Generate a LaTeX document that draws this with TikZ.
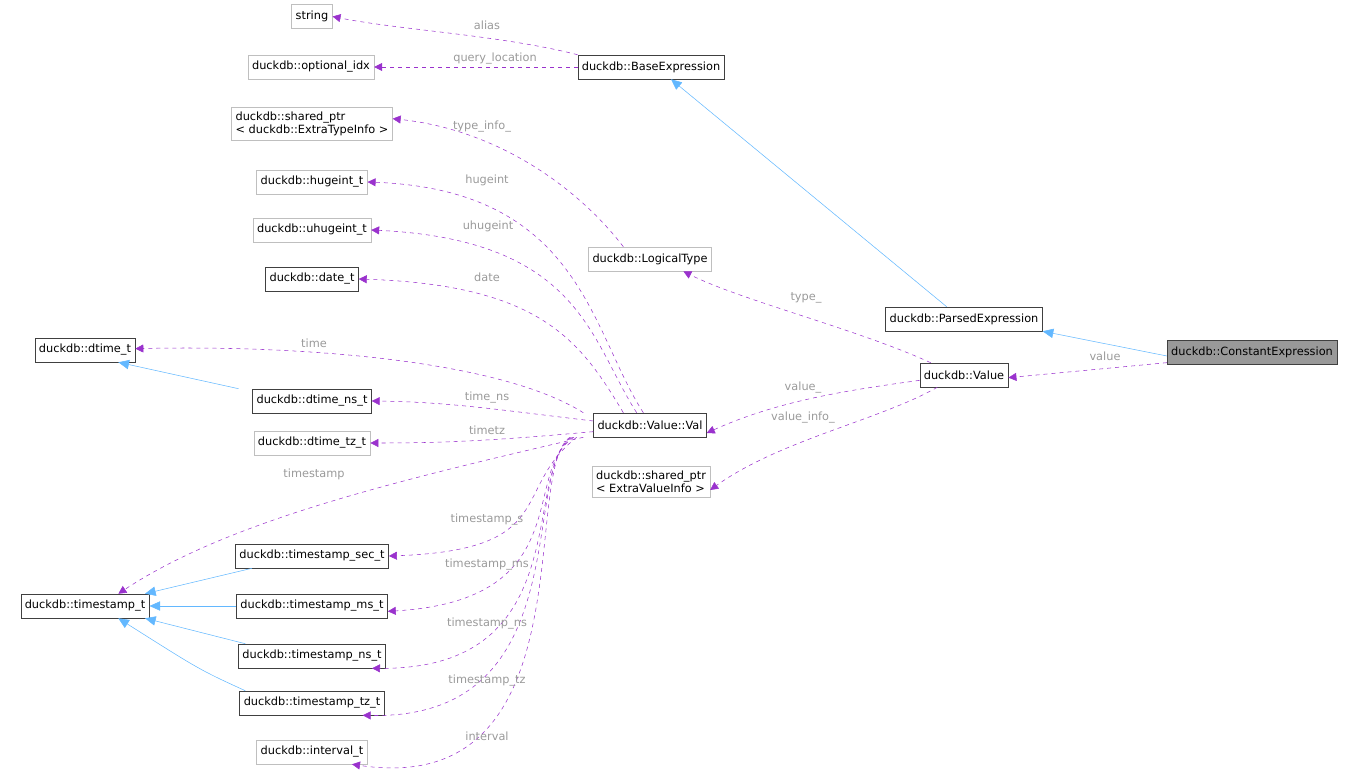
\documentclass[tikz,border=0pt]{standalone}
\usepackage{fontspec}
\setmainfont{DejaVu Sans}
\usetikzlibrary{arrows.meta, positioning}
\definecolor{member}{HTML}{9A32CD}
\definecolor{inherit}{HTML}{63B8FF}
\definecolor{lblgray}{HTML}{9A9A9A}
\definecolor{lightedge}{HTML}{BFBFBF}
\definecolor{darkedge}{HTML}{404040}
\definecolor{selfill}{HTML}{999999}
\tikzset{
    cls/.style={rectangle, draw=darkedge, fill=white, inner xsep=3pt, minimum height=18pt, align=left, font=\fontsize{8.5}{10}\selectfont},
    ext/.style={cls, draw=lightedge},
    mem/.style={dashed, color=member, -{Triangle[length=6pt, width=6pt]}},
    inh/.style={color=inherit, -{Triangle[length=8pt, width=7pt]}},
    lbl/.style={text=lblgray, font=\fontsize{8.5}{10}\selectfont, inner sep=1pt}
}
\begin{document}
\begin{tikzpicture}[x=0.75pt, y=-0.75pt]
    \useasboundingbox (0,0) rectangle (1361,784);
    % Classes
    \node (str) [ext] at (312,16.5) {string};
    \node (optidx) [ext] at (311,67) {duckdb::optional\_idx};
    \node (baseexpr) [cls] at (651,67) {duckdb::BaseExpression};
    \node (typeinfo) [ext] at (312,124) {duckdb::shared\_ptr\\< duckdb::ExtraTypeInfo >};
    \node (hugeint) [ext] at (312,182) {duckdb::hugeint\_t};
    \node (uhugeint) [ext] at (312,230) {duckdb::uhugeint\_t};
    \node (date) [cls] at (312,279) {duckdb::date\_t};
    \node (dtime) [cls] at (85,350) {duckdb::dtime\_t};
    \node (dtimens) [cls] at (312,401) {duckdb::dtime\_ns\_t};
    \node (dtimetz) [ext] at (312,443) {duckdb::dtime\_tz\_t};
    \node (logtype) [ext] at (650,259) {duckdb::LogicalType};
    \node (parsed) [cls] at (964,319) {duckdb::ParsedExpression};
    \node (constexpr) [cls, fill=selfill] at (1252,352) {duckdb::ConstantExpression};
    \node (value) [cls] at (964,375) {duckdb::Value};
    \node (val) [cls] at (650,425) {duckdb::Value::Val};
    \node (valinfo) [ext] at (651,482) {duckdb::shared\_ptr\\< ExtraValueInfo >};
    \node (ts) [cls] at (85,606) {duckdb::timestamp\_t};
    \node (tssec) [cls] at (312,556) {duckdb::timestamp\_sec\_t};
    \node (tsms) [cls] at (312,606) {duckdb::timestamp\_ms\_t};
    \node (tsns) [cls] at (312,656) {duckdb::timestamp\_ns\_t};
    \node (tstz) [cls] at (312,703) {duckdb::timestamp\_tz\_t};
    \node (interval) [ext] at (312,752) {duckdb::interval\_t};

    % Inheritance
    \draw [inh] ([xshift=-13pt]parsed.north) -- ([xshift=15pt]baseexpr.south);
    \draw [inh] ([yshift=-3pt]constexpr.west) -- (parsed.south east);
    \draw [inh] ([xshift=-55pt]dtimens.north) -- ([xshift=25pt]dtime.south);
    \draw [inh] ([xshift=-45pt]tssec.south) -- ([xshift=45pt]ts.north);
    \draw [inh] (tsms.west) -- (ts.east);
    \draw [inh] ([xshift=-50pt]tsns.north) -- ([xshift=45pt]ts.south);
    \draw [inh] ([xshift=-50pt]tstz.north) .. controls (200,670) .. ([xshift=25pt]ts.south);

    % Members
    \draw [mem] ([xshift=-55pt]baseexpr.north) .. controls (500,35) and (400,30) .. (str.east);
    \draw [mem] (baseexpr.west) -- (optidx.east);
    \draw [mem] ([xshift=-20pt]logtype.north) .. controls (580,190) and (500,130) .. ([yshift=4pt]typeinfo.east);
    \draw [mem] ([xshift=-5pt]val.north) .. controls (590,330) and (580,190) .. (hugeint.east);
    \draw [mem] ([xshift=-10pt]val.north) .. controls (590,340) and (580,240) .. (uhugeint.east);
    \draw [mem] ([xshift=-20pt]val.north) .. controls (580,340) and (540,285) .. (date.east);
    \draw [mem] ([xshift=-50pt]val.north) .. controls (500,360) and (300,345) .. ([yshift=1pt]dtime.east);
    \draw [mem] ([yshift=3pt]val.west) .. controls (500,410) and (450,402) .. (dtimens.east);
    \draw [mem] ([yshift=-5pt]val.west) .. controls (500,440) and (450,443) .. (dtimetz.east);
    \draw [mem] ([xshift=-50pt]val.south) .. controls (400,480) and (230,520) .. ([xshift=25pt]ts.north);
    \draw [mem] ([xshift=-55pt]val.south) .. controls (510,490) and (560,550) .. (tssec.east);
    \draw [mem] ([xshift=-57pt]val.south) .. controls (520,470) and (580,600) .. ([yshift=-4pt]tsms.east);
    \draw [mem] ([xshift=-58pt]val.south) .. controls (520,470) and (580,670) .. ([xshift=45pt]tsns.south);
    \draw [mem] ([xshift=-59pt]val.south) .. controls (520,470) and (580,720) .. ([xshift=38pt]tstz.south);
    \draw [mem] ([xshift=-60pt]val.south) .. controls (520,470) and (590,800) .. ([xshift=30pt]interval.south);
    \draw [mem] ([xshift=-25pt]value.north) .. controls (860,330) and (740,300) .. ([xshift=25pt]logtype.south);
    \draw [mem] ([yshift=-4pt]value.west) .. controls (850,390) and (780,400) .. ([yshift=-6pt]val.east);
    \draw [mem] ([xshift=-20pt]value.south) .. controls (880,420) and (780,440) .. ([yshift=-6pt]valinfo.east);
    \draw [mem] ([yshift=-8pt]constexpr.west) -- ([yshift=-2pt]value.east);

    % Labels
    \node (lalias) [lbl] at (487,25) {alias};
    \node (lquery) [lbl] at (495,59) {query\_location};
    \node (ltypeinfo) [lbl] at (482,127) {type\_info\_};
    \node (lhugeint) [lbl] at (487,180) {hugeint};
    \node (luhugeint) [lbl] at (488,226) {uhugeint};
    \node (ldate) [lbl] at (487,277) {date};
    \node (ltime) [lbl] at (314,343) {time};
    \node (ltimens) [lbl] at (487,398) {time\_ns};
    \node (ltimetz) [lbl] at (487,430) {timetz};
    \node (ltimestamp) [lbl] at (314,474) {timestamp};
    \node (ltss) [lbl] at (487,520) {timestamp\_s};
    \node (ltsms) [lbl] at (487,565) {timestamp\_ms};
    \node (ltsns) [lbl] at (487,624) {timestamp\_ns};
    \node (ltstz) [lbl] at (487,681) {timestamp\_tz};
    \node (linterval) [lbl] at (487,736) {interval};
    \node (ltype) [lbl] at (806,298) {type\_};
    \node (lvalue) [lbl] at (803,388) {value\_};
    \node (lvalueinfo) [lbl] at (803,418) {value\_info\_};
    \node (lval) [lbl] at (1105,356) {value};
\end{tikzpicture}
\end{document}
